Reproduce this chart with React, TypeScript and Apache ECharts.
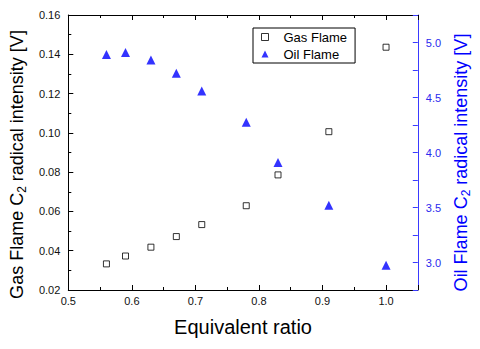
import React, { useEffect, useRef } from "react";
import * as echarts from "echarts";

const ratios = [0.56, 0.59, 0.63, 0.67, 0.71, 0.78, 0.83, 0.91, 1.0];
const gasFlame = [0.0333, 0.0373, 0.0418, 0.0472, 0.0533, 0.0629, 0.0786, 0.1006, 0.1436];
const oilFlame = [4.89, 4.91, 4.84, 4.72, 4.56, 4.275, 3.91, 3.52, 2.975];

const seriesNames = ["Gas Flame", "Oil Flame"];
const xTitle = "Equivalent ratio";
const leftTitle = ["Gas Flame C", "2", " radical intensity [V]"];
const rightTitle = ["Oil Flame C", "2", " radical intensity [V]"];

const FONT = "Liberation Sans, Arial, sans-serif";
const BLUE = "#0000ff";

export default function App() {
  const ref = useRef<HTMLDivElement>(null);
  useEffect(() => {
    if (!ref.current) return;
    const chart = echarts.init(ref.current, null, { renderer: "svg" });
    const richFor = (color: string) => ({
      a: { fontSize: 18, lineHeight: 22, color, fontFamily: FONT },
      s: { fontSize: 12, lineHeight: 12, color, fontFamily: FONT, verticalAlign: "bottom" },
    });
    const tickInside = (color: string) => ({
      show: true,
      inside: true,
      length: 5,
      lineStyle: { color, width: 1 },
    });
    const minor = (color: string) => ({
      show: true,
      splitNumber: 2,
      length: 3,
      lineStyle: { color, width: 1 },
    });
    chart.setOption({
      animation: false,
      textStyle: { fontFamily: FONT },
      grid: { left: 67, right: 48, top: 15, bottom: 59, containLabel: false },
      legend: {
        orient: "vertical",
        left: 253,
        top: 28,
        padding: [2, 8, 2, 8],
        itemGap: 3,
        itemWidth: 7,
        itemHeight: 7,
        borderColor: "#000",
        borderWidth: 1,
        borderRadius: 0,
        textStyle: { fontSize: 13, lineHeight: 14, color: "#000", fontFamily: FONT, padding: [0, 0, 0, 10] },
        data: [
          { name: seriesNames[0], icon: "rect", itemStyle: { color: "#fff", borderColor: "#000", borderWidth: 1 } },
          { name: seriesNames[1], icon: "triangle", itemStyle: { color: BLUE } },
        ],
      },
      xAxis: [
        {
          type: "value",
          position: "bottom",
          min: 0.5,
          max: 1.05,
          interval: 0.1,
          name: xTitle,
          nameLocation: "middle",
          nameGap: 27,
          nameTextStyle: { fontSize: 20, color: "#000", fontFamily: FONT },
          axisLine: { show: true, onZero: false, lineStyle: { color: "#000", width: 1 } },
          axisTick: tickInside("#000"),
          minorTick: minor("#000"),
          axisLabel: {
            fontSize: 11,
            color: "#111",
            margin: 5,
            showMaxLabel: false,
            formatter: (v: number) => v.toFixed(1),
          },
          splitLine: { show: false },
        },
        {
          type: "value",
          position: "top",
          min: 0.5,
          max: 1.05,
          interval: 0.1,
          axisLine: { show: true, onZero: false, lineStyle: { color: "#000", width: 1 } },
          axisTick: tickInside("#000"),
          minorTick: minor("#000"),
          axisLabel: { show: false },
          splitLine: { show: false },
        },
      ],
      yAxis: [
        {
          type: "value",
          position: "left",
          min: 0.02,
          max: 0.16,
          interval: 0.02,
          name: `{a|${leftTitle[0]}}{s|${leftTitle[1]}}{a|${leftTitle[2]}}`,
          nameLocation: "middle",
          nameRotate: 90,
          nameGap: 37,
          nameTextStyle: { rich: richFor("#000"), padding: [0, 24, 0, 0] },
          axisLine: { show: true, onZero: false, lineStyle: { color: "#000", width: 1 } },
          axisTick: tickInside("#000"),
          minorTick: minor("#000"),
          axisLabel: { fontSize: 11, color: "#111", margin: 8, formatter: (v: number) => v.toFixed(2) },
          splitLine: { show: false },
        },
        {
          type: "value",
          position: "right",
          min: 2.75,
          max: 5.25,
          interval: 0.25,
          name: `{a|${rightTitle[0]}}{s|${rightTitle[1]}}{a|${rightTitle[2]}}`,
          nameLocation: "middle",
          nameRotate: 90,
          nameGap: 26,
          nameTextStyle: { rich: richFor(BLUE), padding: [0, 20, 0, 0] },
          axisLine: { show: true, onZero: false, lineStyle: { color: "#3a3aff", width: 1 } },
          axisTick: tickInside("#3a3aff"),
          axisLabel: {
            fontSize: 11,
            color: "#2a2aee",
            margin: 8,
            formatter: (v: number) =>
              Math.abs(v * 2 - Math.round(v * 2)) < 1e-6 ? v.toFixed(1) : "",
          },
          splitLine: { show: false },
        },
      ],
      series: [
        {
          name: seriesNames[0],
          type: "scatter",
          xAxisIndex: 0,
          yAxisIndex: 0,
          symbol: "rect",
          symbolSize: 6,
          itemStyle: { color: "#fff", borderColor: "#000", borderWidth: 1 },
          data: ratios.map((x, i) => [x, gasFlame[i]]),
        },
        {
          name: seriesNames[1],
          type: "scatter",
          xAxisIndex: 0,
          yAxisIndex: 1,
          symbol: "triangle",
          symbolSize: 9,
          itemStyle: { color: BLUE },
          data: ratios.map((x, i) => [x, oilFlame[i]]),
        },
      ],
    });
    return () => chart.dispose();
  }, []);
  return (
    <div
      ref={ref}
      style={{ position: "fixed", left: 0, top: 0, width: 480, height: 349, background: "#fff" }}
    />
  );
}
